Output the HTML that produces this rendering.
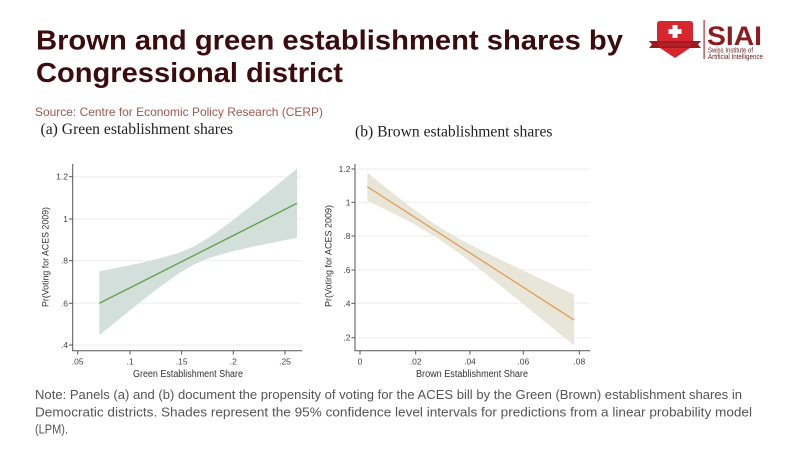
<!DOCTYPE html>
<html><head><meta charset="utf-8"><style>
html,body{margin:0;padding:0;background:#fff;width:800px;height:450px;overflow:hidden}
svg{display:block}
</style></head><body>
<svg width="800" height="450" viewBox="0 0 800 450" xmlns="http://www.w3.org/2000/svg">
<rect width="800" height="450" fill="#fff"/>
<!-- Title -->
<g font-family="Liberation Sans, sans-serif" font-weight="bold" font-size="28" fill="#3b0b0d">
<text x="36" y="49.5" textLength="587" lengthAdjust="spacingAndGlyphs">Brown and green establishment shares by</text>
<text x="36" y="82" textLength="307" lengthAdjust="spacingAndGlyphs">Congressional district</text>
</g>
<text x="35" y="116" font-family="Liberation Sans, sans-serif" font-size="12" fill="#a0574f" textLength="288" lengthAdjust="spacingAndGlyphs">Source: Centre for Economic Policy Research (CERP)</text>

<!-- Logo -->
<g>
<path d="M657 24 Q657 21 660 21 L690 21 Q693 21 693 24 L693 46 L675 58 L657 46 Z" fill="#d7262e"/>
<path d="M649 41 L701 41 L698 44.5 L701 48 L649 48 L652 44.5 Z" fill="#9b1a1f"/>
<rect x="659" y="42.5" width="32" height="4" fill="#b51f26"/>
<rect x="672.5" y="25" width="5" height="13" fill="#fff"/>
<rect x="668.5" y="29" width="13" height="5" fill="#fff"/>
<rect x="703.5" y="20" width="1.2" height="39" fill="#c0282e"/>
<text x="707" y="45" font-family="Liberation Sans, sans-serif" font-weight="bold" font-size="27" fill="#8b1c20" textLength="55" lengthAdjust="spacingAndGlyphs">SIAI</text>
<text x="708" y="52.5" font-family="Liberation Sans, sans-serif" font-size="7.5" fill="#6b1a1c" textLength="45" lengthAdjust="spacingAndGlyphs">Swiss Institute of</text>
<text x="708" y="59" font-family="Liberation Sans, sans-serif" font-size="7.5" fill="#6b1a1c" textLength="55" lengthAdjust="spacingAndGlyphs">Artificial Intelligence</text>
</g>

<!-- Panel titles -->
<g font-family="Liberation Serif, serif" font-size="16" fill="#222">
<text x="40.5" y="134" textLength="192.5" lengthAdjust="spacingAndGlyphs">(a)  Green establishment shares</text>
<text x="355" y="136.5" textLength="197.5" lengthAdjust="spacingAndGlyphs">(b) Brown establishment shares</text>
</g>

<!-- Panel A -->
<g>
<g stroke="#ededed" stroke-width="1">
<line x1="73" y1="176.7" x2="302" y2="176.7"/>
<line x1="73" y1="219" x2="302" y2="219"/>
<line x1="73" y1="260.7" x2="302" y2="260.7"/>
<line x1="73" y1="303.3" x2="302" y2="303.3"/>
<line x1="73" y1="345" x2="302" y2="345"/>
</g>
<polygon fill="#d3dfda" points="99.3,271.4 120,267.3 140,263.1 160,258.4 180,252.4 194,246.4 210,236.9 230,222.5 250,206.8 270,190.7 297,168.8 297,237.8 270,243.1 250,247.2 230,251.9 210,257.7 194,264.4 180,272.6 160,286.8 140,302.3 120,318.4 99.3,335.2"/>
<line x1="99.3" y1="303.3" x2="297" y2="203.3" stroke="#62a550" stroke-width="1.4"/>
<g stroke="#555" stroke-width="1" fill="none">
<line x1="72.7" y1="164" x2="72.7" y2="351"/>
<line x1="72.2" y1="350.7" x2="302" y2="350.7"/>
<line x1="69" y1="176.7" x2="72.7" y2="176.7"/>
<line x1="69" y1="219" x2="72.7" y2="219"/>
<line x1="69" y1="260.7" x2="72.7" y2="260.7"/>
<line x1="69" y1="303.3" x2="72.7" y2="303.3"/>
<line x1="69" y1="345" x2="72.7" y2="345"/>
<line x1="77.7" y1="350.7" x2="77.7" y2="354.5"/>
<line x1="130" y1="350.7" x2="130" y2="354.5"/>
<line x1="181.7" y1="350.7" x2="181.7" y2="354.5"/>
<line x1="233.3" y1="350.7" x2="233.3" y2="354.5"/>
<line x1="285" y1="350.7" x2="285" y2="354.5"/>
</g>
<g font-family="Liberation Sans, sans-serif" font-size="8.5" fill="#444" text-anchor="end">
<text x="68" y="179.7">1.2</text>
<text x="68" y="222">1</text>
<text x="68" y="263.7">.8</text>
<text x="68" y="306.3">.6</text>
<text x="68" y="348">.4</text>
</g>
<g font-family="Liberation Sans, sans-serif" font-size="8.5" fill="#444" text-anchor="middle">
<text x="77.7" y="364.5">.05</text>
<text x="130" y="364.5">.1</text>
<text x="181.7" y="364.5">.15</text>
<text x="233.3" y="364.5">.2</text>
<text x="285" y="364.5">.25</text>
</g>
<text x="188" y="377" font-family="Liberation Sans, sans-serif" font-size="10" fill="#333" text-anchor="middle" textLength="110" lengthAdjust="spacingAndGlyphs">Green Establishment Share</text>
<text transform="translate(48.5,257) rotate(-90)" font-family="Liberation Sans, sans-serif" font-size="9.5" fill="#333" text-anchor="middle" textLength="100" lengthAdjust="spacingAndGlyphs">Pr(Voting for ACES 2009)</text>
</g>

<!-- Panel B -->
<g>
<g stroke="#ededed" stroke-width="1">
<line x1="356" y1="169" x2="590" y2="169"/>
<line x1="356" y1="202.3" x2="590" y2="202.3"/>
<line x1="356" y1="236" x2="590" y2="236"/>
<line x1="356" y1="270" x2="590" y2="270"/>
<line x1="356" y1="303.3" x2="590" y2="303.3"/>
<line x1="356" y1="337.7" x2="590" y2="337.7"/>
</g>
<polygon fill="#e8e5d9" points="367.3,172.7 390,190.9 410,206.5 437,225.7 460,239.2 480,249.6 500,259.4 520,269 540,278.5 574,294.5 574,345.5 540,317.7 520,301.4 500,285.2 480,269.2 460,253.8 437,237.7 410,221.9 390,211.7 367.3,200.7"/>
<line x1="367.3" y1="186.7" x2="574" y2="320" stroke="#e3a25a" stroke-width="1.4"/>
<g stroke="#555" stroke-width="1" fill="none">
<line x1="355" y1="164" x2="355" y2="351"/>
<line x1="354.5" y1="350.7" x2="590" y2="350.7"/>
<line x1="351.5" y1="169" x2="355" y2="169"/>
<line x1="351.5" y1="202.3" x2="355" y2="202.3"/>
<line x1="351.5" y1="236" x2="355" y2="236"/>
<line x1="351.5" y1="270" x2="355" y2="270"/>
<line x1="351.5" y1="303.3" x2="355" y2="303.3"/>
<line x1="351.5" y1="337.7" x2="355" y2="337.7"/>
<line x1="360" y1="350.7" x2="360" y2="354.5"/>
<line x1="415.7" y1="350.7" x2="415.7" y2="354.5"/>
<line x1="470" y1="350.7" x2="470" y2="354.5"/>
<line x1="523.3" y1="350.7" x2="523.3" y2="354.5"/>
<line x1="579.3" y1="350.7" x2="579.3" y2="354.5"/>
</g>
<g font-family="Liberation Sans, sans-serif" font-size="8.5" fill="#444" text-anchor="end">
<text x="350.5" y="172">1.2</text>
<text x="350.5" y="205.3">1</text>
<text x="350.5" y="239">.8</text>
<text x="350.5" y="273">.6</text>
<text x="350.5" y="306.3">.4</text>
<text x="350.5" y="340.7">.2</text>
</g>
<g font-family="Liberation Sans, sans-serif" font-size="8.5" fill="#444" text-anchor="middle">
<text x="360" y="364.5">0</text>
<text x="415.7" y="364.5">.02</text>
<text x="470" y="364.5">.04</text>
<text x="523.3" y="364.5">.06</text>
<text x="579.3" y="364.5">.08</text>
</g>
<text x="472" y="377" font-family="Liberation Sans, sans-serif" font-size="10" fill="#333" text-anchor="middle" textLength="112" lengthAdjust="spacingAndGlyphs">Brown Establishment Share</text>
<text transform="translate(331.5,256) rotate(-90)" font-family="Liberation Sans, sans-serif" font-size="9.5" fill="#333" text-anchor="middle" textLength="102" lengthAdjust="spacingAndGlyphs">Pr(Voting for ACES 2009)</text>
</g>

<!-- Note -->
<g font-family="Liberation Sans, sans-serif" font-size="13" fill="#555">
<text x="35" y="399" textLength="707" lengthAdjust="spacingAndGlyphs">Note: Panels (a) and (b) document the propensity of voting for the ACES bill by the Green (Brown) establishment shares in</text>
<text x="35" y="416.3" textLength="717" lengthAdjust="spacingAndGlyphs">Democratic districts. Shades represent the 95% confidence level intervals for predictions from a linear probability model</text>
<text x="35" y="433.6" textLength="33" lengthAdjust="spacingAndGlyphs">(LPM).</text>
</g>
</svg>
</body></html>
